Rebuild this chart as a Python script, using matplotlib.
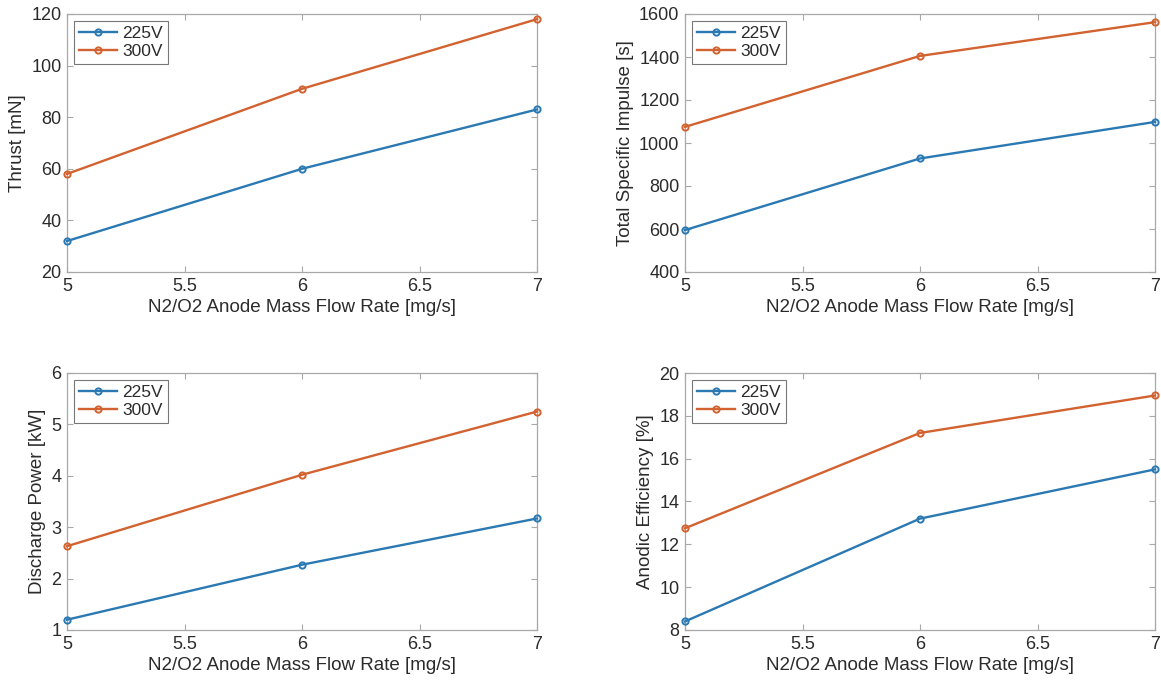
import matplotlib
matplotlib.use("Agg")
import matplotlib.pyplot as plt

plt.rcParams['font.family'] = ['Liberation Sans', 'DejaVu Sans']

flow = [5, 6, 7]
series_labels = ["225V", "300V"]

thrust_225 = [32, 60, 83]
thrust_300 = [58, 91, 118]
isp_225 = [595, 928, 1098]
isp_300 = [1075, 1405, 1562]
power_225 = [1.2, 2.27, 3.17]
power_300 = [2.63, 4.02, 5.25]
eff_225 = [8.4, 13.2, 15.5]
eff_300 = [12.75, 17.2, 18.95]

xlabel = "N2/O2 Anode Mass Flow Rate [mg/s]"
panels = [
    ("Thrust [mN]", thrust_225, thrust_300, (20, 120), [20, 40, 60, 80, 100, 120]),
    ("Total Specific Impulse [s]", isp_225, isp_300, (400, 1600), [400, 600, 800, 1000, 1200, 1400, 1600]),
    ("Discharge Power [kW]", power_225, power_300, (1, 6), [1, 2, 3, 4, 5, 6]),
    ("Anodic Efficiency [%]", eff_225, eff_300, (8, 20), [8, 10, 12, 14, 16, 18, 20]),
]
xticks = [5, 5.5, 6, 6.5, 7]
xticklabels = ["5", "5.5", "6", "6.5", "7"]

colors = ["#2a79b3", "#d2622f"]
W, H = 1161, 682
fig = plt.figure(figsize=(W / 100, H / 100), dpi=100)
boxes = [
    (67, 14, 537, 272),
    (685, 14, 1155, 272),
    (67, 373, 537, 630),
    (685, 373, 1155, 630),
]
tc = "#2b2b2b"
for (ylab, s1, s2, ylim, yt), (l, t, r, b) in zip(panels, boxes):
    ax = fig.add_axes([l / W, 1 - b / H, (r - l) / W, (b - t) / H])
    for vals, c, lab in zip([s1, s2], colors, series_labels):
        ax.plot(flow, vals, '-o', color=c, lw=1.7, ms=4.5, mfc='none', mew=1.4,
                label=lab, clip_on=False, zorder=3)
    ax.set_xlim(5, 7)
    ax.set_ylim(*ylim)
    ax.set_xticks(xticks)
    ax.set_xticklabels(xticklabels)
    ax.set_yticks(yt)
    ax.tick_params(direction='in', top=True, right=True, length=4, width=0.8,
                   labelsize=13, colors='#a8a8a8', labelcolor=tc, pad=4)
    for sp in ax.spines.values():
        sp.set_color('#a8a8a8')
        sp.set_linewidth(0.9)
    ax.set_xlabel(xlabel, fontsize=13.5, color=tc, labelpad=3)
    ax.set_ylabel(ylab, fontsize=13.5, color=tc, labelpad=4)
    leg = ax.legend(loc='upper left', fontsize=12.5, frameon=True, fancybox=False,
                    handlelength=2.2, handletextpad=0.3, borderpad=0.3,
                    labelspacing=0.15, borderaxespad=0.4)
    leg.get_frame().set_edgecolor('#555555')
    leg.get_frame().set_linewidth(0.8)
    for txt in leg.get_texts():
        txt.set_color(tc)

fig.savefig("out.png", dpi=100, facecolor='white')
